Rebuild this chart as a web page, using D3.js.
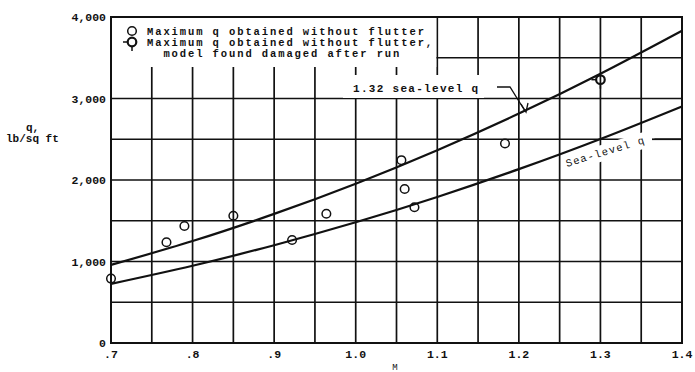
<!DOCTYPE html>
<html>
<head>
<meta charset="utf-8">
<script src="https://cdn.jsdelivr.net/npm/d3@7"></script>
<style>
body { margin: 0; background: #fff; }
text { font-family: "Liberation Mono", "DejaVu Sans Mono", monospace; fill: #111; }
</style>
</head>
<body>
<div id="chart-area"></div>
<script>
var w = 695;
var h = 372;

// values
var machCurve = [0.7, 0.8, 0.9, 1.0, 1.1, 1.2, 1.3, 1.4];
var seaLevelQ = [726, 948, 1200, 1481, 1792, 2133, 2503, 2903];
var seaLevelQ132 = [958, 1251, 1584, 1955, 2366, 2815, 3304, 3832];

var pointMach = [0.70, 0.768, 0.79, 0.85, 0.922, 0.964, 1.056, 1.060, 1.072, 1.183, 1.30];
var pointQ = [790, 1236, 1436, 1562, 1264, 1586, 2243, 1889, 1665, 2448, 3231];
var pointDamaged = [false, false, false, false, false, false, false, false, false, false, true];

var xTicks = [0.7, 0.8, 0.9, 1.0, 1.1, 1.2, 1.3, 1.4];
var xTickLabels = [".7", ".8", ".9", "1.0", "1.1", "1.2", "1.3", "1.4"];
var yTicks = [0, 1000, 2000, 3000, 4000];
var yTickLabels = ["0", "1,000", "2,000", "3,000", "4,000"];

var legendLines = ["Maximum q obtained without flutter",
                   "Maximum q obtained without flutter,",
                   "  model found damaged after run"];

var svg = d3.select('#chart-area').append('svg')
        .attr('width', w)
        .attr('height', h);

var x = d3.scaleLinear().domain([0.7, 1.4]).range([111, 682]);
var y = d3.scaleLinear().domain([0, 4000]).range([343, 17]);

// grid
svg.append('g').selectAll('line')
    .data(d3.range(0.75, 1.36, 0.05))
    .enter()
    .append('line')
    .attr('x1', d => x(d)).attr('x2', d => x(d))
    .attr('y1', y(4000)).attr('y2', y(0))
    .attr('stroke', '#111')
    .attr('stroke-width', 1.7);
svg.append('g').selectAll('line')
    .data(d3.range(500, 4000, 500))
    .enter()
    .append('line')
    .attr('x1', x(0.7)).attr('x2', x(1.4))
    .attr('y1', d => y(d)).attr('y2', d => y(d))
    .attr('stroke', '#111')
    .attr('stroke-width', 1.7);

// white areas behind legend and labels
svg.append('rect')
    .attr('x', x(0.7)).attr('y', y(4000))
    .attr('width', x(1.1) - x(0.7) - 1).attr('height', 50)
    .attr('fill', '#fff');
svg.append('rect')
    .attr('x', 343).attr('y', 75)
    .attr('width', 141).attr('height', 23)
    .attr('fill', '#fff');

var seaLabel = svg.append('g')
    .attr('transform', 'translate(567,167) rotate(-17)');
seaLabel.append('rect')
    .attr('x', -2).attr('y', -11)
    .attr('width', 94).attr('height', 16)
    .attr('fill', '#fff');
seaLabel.append('text')
    .attr('x', 0).attr('y', 0)
    .attr('font-size', 10.5)
    .attr('letter-spacing', 1.2)
    .text("Sea-level q");

// frame
svg.append('rect')
    .attr('x', x(0.7)).attr('y', y(4000))
    .attr('width', x(1.4) - x(0.7)).attr('height', y(0) - y(4000))
    .attr('fill', 'none')
    .attr('stroke', '#111')
    .attr('stroke-width', 2);

// curves
var line = d3.line()
    .x(d => x(d[0]))
    .y(d => y(d[1]))
    .curve(d3.curveNatural);
svg.append('path')
    .attr('d', line(d3.zip(machCurve, seaLevelQ)))
    .attr('fill', 'none')
    .attr('stroke', '#111')
    .attr('stroke-width', 2.2);
svg.append('path')
    .attr('d', line(d3.zip(machCurve, seaLevelQ132)))
    .attr('fill', 'none')
    .attr('stroke', '#111')
    .attr('stroke-width', 2.2);

// 1.32 label + leader
svg.append('text')
    .attr('x', 353).attr('y', 92)
    .attr('font-size', 11)
    .attr('font-weight', 'bold')
    .attr('letter-spacing', 1.3)
    .text("1.32 sea-level q");
svg.append('path')
    .attr('d', 'M497,87 L510,87 L525,111')
    .attr('fill', 'none')
    .attr('stroke', '#111')
    .attr('stroke-width', 1.3);
svg.append('path')
    .attr('d', 'M521,104 L526,112 L528,103')
    .attr('fill', 'none')
    .attr('stroke', '#111')
    .attr('stroke-width', 1.3);
// short end segment after sea-level label
svg.append('line')
    .attr('x1', 652).attr('x2', x(1.4))
    .attr('y1', y(2500)).attr('y2', y(2500))
    .attr('stroke', '#111')
    .attr('stroke-width', 1.7);

// points
function drawSymbol(g, cx, cy, damaged) {
    g.append('circle')
        .attr('cx', cx).attr('cy', cy).attr('r', 4.3)
        .attr('fill', 'none')
        .attr('stroke', '#111')
        .attr('stroke-width', damaged ? 2.2 : 1.5);
    if (damaged) {
        g.append('line')
            .attr('x1', cx - 9).attr('x2', cx - 4.3)
            .attr('y1', cy).attr('y2', cy)
            .attr('stroke', '#111').attr('stroke-width', 1.5);
        g.append('line')
            .attr('x1', cx).attr('x2', cx)
            .attr('y1', cy + 4.3).attr('y2', cy + 9)
            .attr('stroke', '#111').attr('stroke-width', 1.5);
    }
}
var pts = svg.append('g');
for (var i = 0; i < pointMach.length; i++) {
    drawSymbol(pts, x(pointMach[i]), y(pointQ[i]), pointDamaged[i]);
}

// legend
var legend = svg.append('g');
drawSymbol(legend, 132, 31, false);
drawSymbol(legend, 132, 42, true);
legend.selectAll('text')
    .data(legendLines)
    .enter()
    .append('text')
    .attr('x', 147)
    .attr('y', (d, i) => 34.5 + i * 11)
    .attr('font-size', 10.5)
    .attr('font-weight', 'bold')
    .attr('letter-spacing', 1.9)
    .attr('xml:space', 'preserve')
    .style('white-space', 'pre')
    .text(d => d);

// tick labels
svg.append('g').selectAll('text')
    .data(yTicks)
    .enter()
    .append('text')
    .attr('x', 106)
    .attr('y', d => y(d) + 4)
    .attr('text-anchor', 'end')
    .attr('font-size', 11.5)
    .attr('font-weight', 'bold')
    .text((d, i) => yTickLabels[i]);
svg.append('g').selectAll('text')
    .data(xTicks)
    .enter()
    .append('text')
    .attr('x', d => x(d))
    .attr('y', 358)
    .attr('text-anchor', 'middle')
    .attr('font-size', 11.5)
    .attr('font-weight', 'bold')
    .text((d, i) => xTickLabels[i]);

// axis titles
svg.append('text')
    .attr('x', 26).attr('y', 131)
    .attr('font-size', 11)
    .attr('font-weight', 'bold')
    .text("q,");
svg.append('text')
    .attr('x', 6).attr('y', 142)
    .attr('font-size', 11)
    .attr('font-weight', 'bold')
    .text("lb/sq ft");
svg.append('text')
    .attr('x', 395).attr('y', 370)
    .attr('text-anchor', 'middle')
    .attr('font-size', 9)
    .text("M");
</script>
</body>
</html>
